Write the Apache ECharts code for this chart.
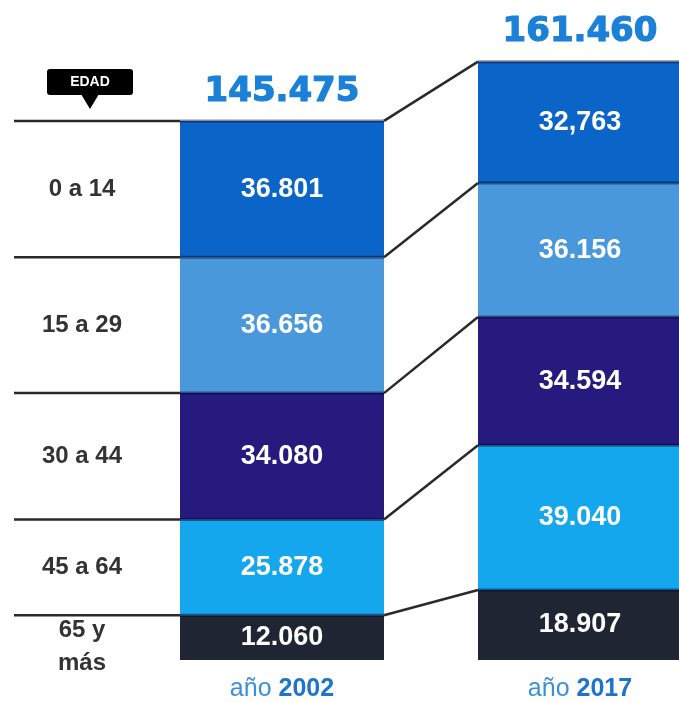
<!DOCTYPE html>
<html>
<head>
<meta charset="utf-8">
<title>Población por edad</title>
<script src="https://cdn.jsdelivr.net/npm/echarts@6/dist/echarts.min.js"></script>
<style>
html, body { margin: 0; padding: 0; background: #fff; }
#chart { width: 679px; height: 702px; }
</style>
</head>
<body>
<div id="chart"></div>
<script>
// datos, de arriba hacia abajo
var years = ['2002', '2017'];
var ageGroups = ['0 a 14', '15 a 29', '30 a 44', '45 a 64', '65 y\nmás'];
var values2002 = [36801, 36656, 34080, 25878, 12060];
var values2017 = [32763, 36156, 34594, 39040, 18907];
var labels2002 = ['36.801', '36.656', '34.080', '25.878', '12.060'];
var labels2017 = ['32,763', '36.156', '34.594', '39.040', '18.907'];
var colors = ['#0b64c8', '#4a98dc', '#261a7e', '#15a7ee', '#1f2533'];

var fmt = n => n.toString().replace(/\B(?=(\d{3})+(?!\d))/g, '.');
var sum = a => a.reduce((s, v) => s + v, 0);
var totals = [sum(values2002), sum(values2017)];

var chart = echarts.init(document.getElementById('chart'));
var BAR_W = 204;

// bar series stacked bottom-up, so reverse order
var barSeries = [];
for (var i = ageGroups.length - 1; i >= 0; i--) {
    (function (k) {
        barSeries.push({
            type: 'bar',
            stack: 'pob',
            barWidth: BAR_W,
            data: [values2002[k], values2017[k]],
            itemStyle: { color: colors[k] },
            label: {
                show: true,
                position: 'inside',
                color: '#fff',
                fontFamily: 'Liberation Sans',
                fontWeight: 'bold',
                fontSize: 27,
                formatter: p => p.dataIndex == 0 ? labels2002[k] : labels2017[k]
            },
            z: 2
        });
    })(i);
}

// connectors, age labels and totals
var overlay = {
    type: 'custom',
    data: [0],
    z: 5,
    silent: true,
    renderItem: function (params, api) {
        var kids = [];
        var half = BAR_W / 2;
        var x0 = api.coord([0, 0])[0], x1 = api.coord([1, 0])[0];
        var c0 = totals[0], c1 = totals[1];
        for (var k = 0; k < ageGroups.length; k++) {
            var yl = api.coord([0, c0])[1];
            var yr = api.coord([1, c1])[1];
            var ylb = api.coord([0, c0 - values2002[k]])[1];
            // horizontal line on the left
            kids.push({ type: 'line', shape: { x1: 14, y1: yl, x2: x0 - half, y2: yl },
                style: { stroke: '#2a2a2a', lineWidth: 2.5 } });
            kids.push({ type: 'line', shape: { x1: x0 - half, y1: yl, x2: x0 + half, y2: yl },
                style: { stroke: 'rgba(0,0,30,0.45)', lineWidth: 3 } });
            // diagonal to the 2017 bar
            kids.push({ type: 'line', shape: { x1: x0 + half, y1: yl, x2: x1 - half, y2: yr },
                style: { stroke: '#2a2a2a', lineWidth: 2.5 } });
            kids.push({ type: 'line', shape: { x1: x1 - half, y1: yr, x2: x1 + half, y2: yr },
                style: { stroke: 'rgba(0,0,30,0.45)', lineWidth: 3 } });
            // age label
            var multi = ageGroups[k].indexOf('\n') >= 0;
            kids.push({ type: 'text', style: {
                text: ageGroups[k], x: 82, y: (yl + ylb) / 2 + (multi ? 9 : 0),
                align: 'center', verticalAlign: 'middle',
                fontFamily: 'Liberation Sans', fontWeight: 'bold', fontSize: 24,
                lineHeight: 33, fill: '#333' } });
            c0 -= values2002[k];
            c1 -= values2017[k];
        }
        for (var j = 0; j < years.length; j++) {
            var p = api.coord([j, totals[j]]);
            kids.push({ type: 'text', style: {
                text: fmt(totals[j]), x: p[0], y: p[1] - 29,
                align: 'center', verticalAlign: 'middle',
                fontFamily: 'DejaVu Sans', fontWeight: 'bold', fontSize: 34,
                fill: '#1a80d8', stroke: '#1a80d8', lineWidth: 1.2 } });
        }
        return { type: 'group', children: kids };
    }
};

var option = {
    animation: false,
    grid: { left: 133, top: 30, width: 596, height: 630, outerBoundsMode: 'none' },
    xAxis: {
        type: 'category',
        data: years,
        axisLine: { show: false },
        axisTick: { show: false },
        axisLabel: {
            margin: 17,
            formatter: v => '{a|año }{b|' + v + '}',
            rich: {
                a: { fontFamily: 'Liberation Sans', fontSize: 25, color: '#3b90da' },
                b: { fontFamily: 'Liberation Sans', fontSize: 25, fontWeight: 'bold', color: '#1c74cc' }
            }
        }
    },
    yAxis: { type: 'value', min: 0, max: 170000, show: false },
    graphic: [
        { type: 'rect', shape: { x: 47, y: 69, width: 86, height: 26, r: 3 }, style: { fill: '#000' } },
        { type: 'polygon', shape: { points: [[81, 94], [99, 94], [90, 109]] }, style: { fill: '#000' } },
        { type: 'text', style: { text: 'EDAD', x: 90, y: 82, align: 'center', verticalAlign: 'middle',
            fontFamily: 'Liberation Sans', fontWeight: 'bold', fontSize: 14, fill: '#fff' } }
    ],
    series: barSeries.concat([overlay])
};
chart.setOption(option);
</script>
</body>
</html>
